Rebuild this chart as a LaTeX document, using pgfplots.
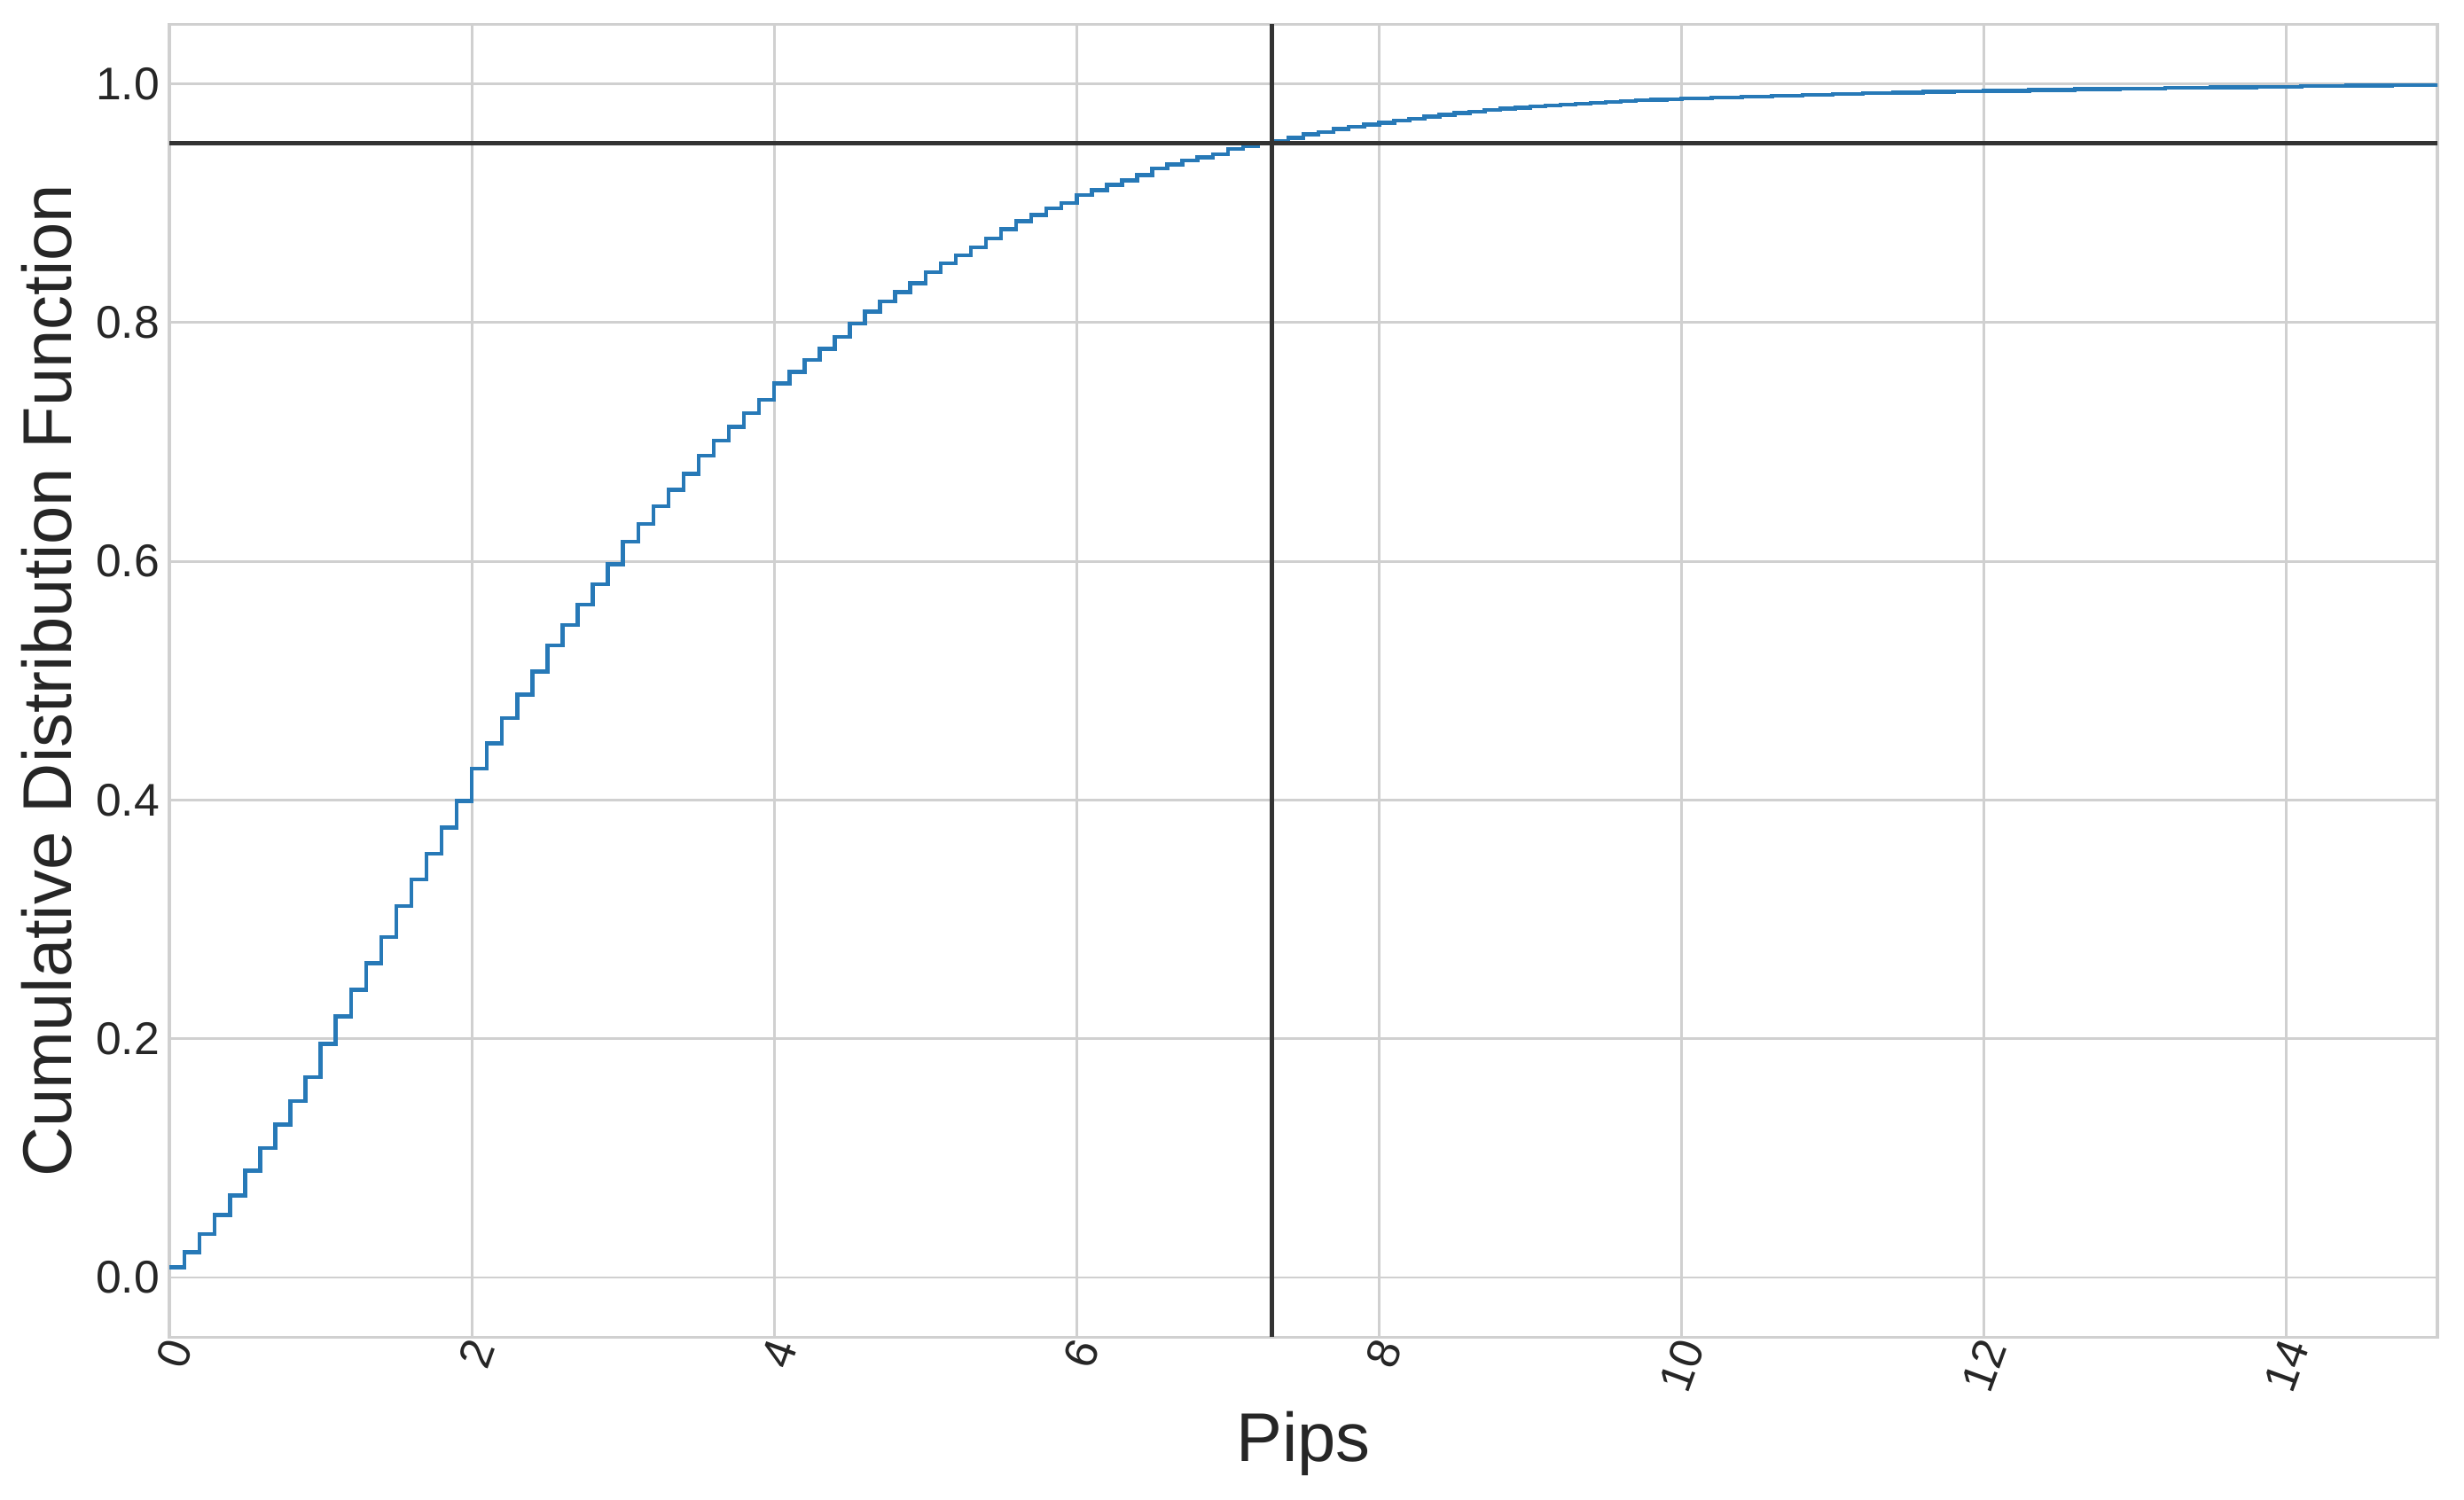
\documentclass[border=0pt]{standalone}
\usepackage{fontspec}
\setmainfont{Liberation Sans}
\usepackage{pgfplots}
\pgfplotsset{compat=1.18}
\usetikzlibrary{calc}

\definecolor{cdfblue}{HTML}{2779B7}
\definecolor{gridgray}{HTML}{D0D0D0}
\definecolor{txt}{HTML}{262626}
\definecolor{refline}{HTML}{333333}

\begin{document}
\begin{tikzpicture}
\begin{axis}[
    scale only axis,
    width=460.4pt,
    height=266.6pt,
    xmin=0, xmax=15,
    ymin=-0.05, ymax=1.05,
    xtick={0,2,...,14},
    ytick={0,0.2,0.4,0.6,0.8,1.0},
    major tick length=0pt,
    grid=major,
    major grid style={gridgray, line width=0.5pt},
    axis line style={gridgray, line width=0.6pt},
    tick label style={font=\fontsize{9.3}{11}\selectfont, text=txt},
    /pgf/number format/assume math mode=true,
    yticklabel style={/pgf/number format/fixed, /pgf/number format/fixed zerofill,
        /pgf/number format/precision=1, anchor=east, inner sep=0pt, xshift=-1.8pt},
    xticklabel style={rotate=70, anchor=east, inner sep=0pt, yshift=-2pt},
    xlabel={Pips},
    ylabel={Cumulative Distribution Function},
    label style={font=\fontsize{14}{16}\selectfont, text=txt},
    xlabel style={at={(axis description cs:0.5,0)}, anchor=center, yshift=-21.6pt},
    ylabel style={at={(axis description cs:0,0.5)}, anchor=center, rotate=0, yshift=25pt},
    clip=true,
]
% empirical CDF, one step per 0.1 pip
\addplot[cdfblue, line width=0.8pt, const plot mark left] coordinates {
    (0.0,0.0087) (0.1,0.0212) (0.2,0.0364) (0.3,0.0523) (0.4,0.0686)
    (0.5,0.0895) (0.6,0.1084) (0.7,0.1281) (0.8,0.1478) (0.9,0.1679)
    (1.0,0.1956) (1.1,0.2187) (1.2,0.2410) (1.3,0.2634) (1.4,0.2854)
    (1.5,0.3112) (1.6,0.3335) (1.7,0.3551) (1.8,0.3771) (1.9,0.3991)
    (2.0,0.4265) (2.1,0.4475) (2.2,0.4687) (2.3,0.4885) (2.4,0.5075)
    (2.5,0.5296) (2.6,0.5466) (2.7,0.5638) (2.8,0.5809) (2.9,0.5974)
    (3.0,0.6165) (3.1,0.6313) (3.2,0.6461) (3.3,0.6600) (3.4,0.6731)
    (3.5,0.6883) (3.6,0.7012) (3.7,0.7127) (3.8,0.7242) (3.9,0.7351)
    (4.0,0.7489) (4.1,0.7588) (4.2,0.7687) (4.3,0.7779) (4.4,0.7878)
    (4.5,0.7993) (4.6,0.8092) (4.7,0.8175) (4.8,0.8254) (4.9,0.8330)
    (5.0,0.8422) (5.1,0.8496) (5.2,0.8562) (5.3,0.8630) (5.4,0.8703)
    (5.5,0.8782) (5.6,0.8850) (5.7,0.8902) (5.8,0.8956) (5.9,0.9001)
    (6.0,0.9068) (6.1,0.9110) (6.2,0.9155) (6.3,0.9192) (6.4,0.9235)
    (6.5,0.9292) (6.6,0.9324) (6.7,0.9359) (6.8,0.9384) (6.9,0.9411)
    (7.0,0.9453) (7.1,0.9478) (7.2,0.9498) (7.3,0.9523) (7.4,0.9548)
    (7.5,0.9577) (7.6,0.9597) (7.7,0.9620) (7.8,0.9640) (7.9,0.9657)
    (8.0,0.9672) (8.1,0.9690) (8.2,0.9708) (8.3,0.9724) (8.4,0.9740)
    (8.5,0.9755) (8.6,0.9768) (8.7,0.9780) (8.8,0.9791) (8.9,0.9801)
    (9.0,0.9810) (9.1,0.9819) (9.2,0.9827) (9.3,0.9835) (9.4,0.9842)
    (9.5,0.9849) (9.6,0.9855) (9.7,0.9861) (9.8,0.9867) (9.9,0.9872)
    (10.0,0.9877) (10.2,0.9886) (10.4,0.9894) (10.6,0.9901) (10.8,0.9908)
    (11.0,0.9915) (11.2,0.9921) (11.4,0.9927) (11.6,0.9932) (11.8,0.9937)
    (12.0,0.9942) (12.3,0.9949) (12.6,0.9955) (12.9,0.9961) (13.2,0.9966)
    (13.5,0.9971) (13.8,0.9976) (14.1,0.9980) (14.4,0.9984) (14.7,0.9987)
    (15.0,0.9990) (16.0,1.0000)
};
% 95th percentile markers
\addplot[refline, line width=0.9pt] coordinates {(0,0.95) (15,0.95)};
\addplot[refline, line width=0.9pt] coordinates {(7.29,-0.05) (7.29,1.05)};
\end{axis}
\pgfresetboundingbox
\path ($(current axis.south west)+(-34.4pt,-32.9pt)$) rectangle ($(current axis.north east)+(5.4pt,4.9pt)$);
\end{tikzpicture}
\end{document}
